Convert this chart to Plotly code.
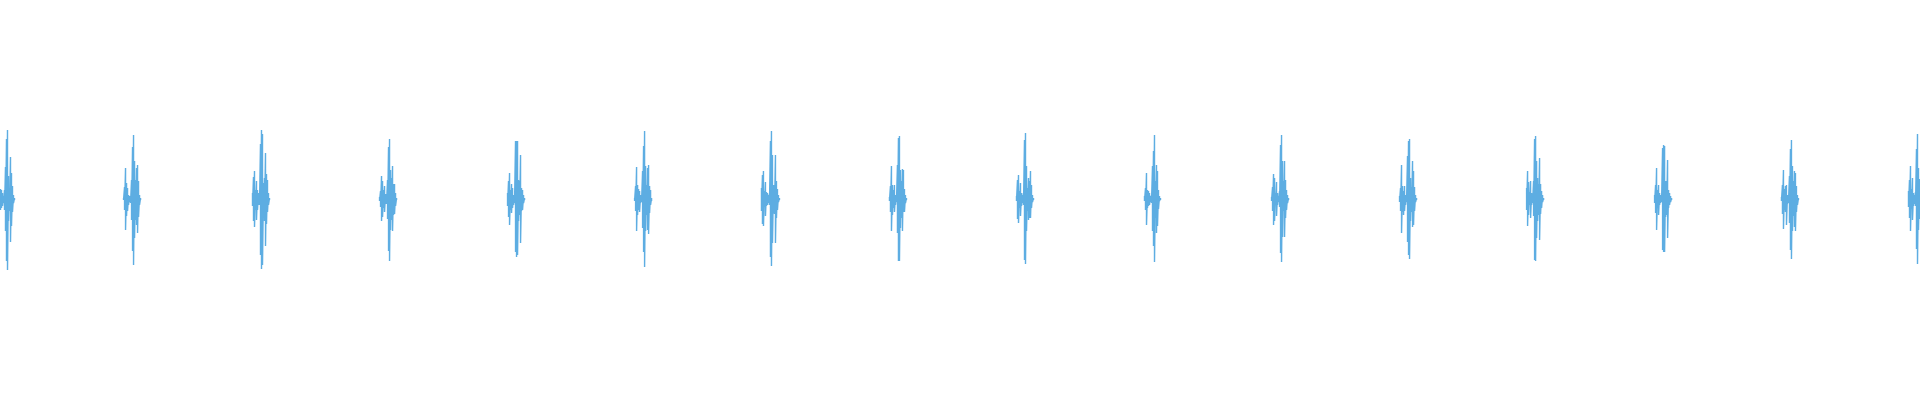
import plotly.graph_objects as go

# Heart-sound (PCG) style recording: 16 beats over 12 seconds.
# Each beat: onset time (s) and per-column positive / negative peak amplitudes
# (envelope sampled at 160 columns per second, read from the reference).
onsets_s = [0.000, 0.769, 1.575, 2.369, 3.169, 3.963, 4.756, 5.556,
            6.350, 7.150, 7.944, 8.744, 9.538, 10.338, 11.131, 11.925]

b01_up = [10, 9, 6, 3, 9, 32, 60, 69, 23, 11, 42, 26, 13, 4, 1]
b01_dn = [11, 9, 7, 4, 11, 32, 62, 71, 22, 12, 43, 27, 13, 4, 1]
b02_up = [1, 12, 31, 16, 11, 4, 3, 3, 19, 52, 64, 38, 19, 31, 34, 18, 4, 1]
b02_dn = [1, 11, 31, 17, 12, 6, 3, 4, 21, 52, 66, 39, 21, 26, 34, 18, 6, 1]
b03_up = [6, 22, 28, 9, 18, 9, 6, 6, 55, 69, 65, 16, 21, 46, 25, 19, 6, 1]
b03_dn = [7, 22, 28, 11, 21, 11, 6, 6, 56, 70, 66, 16, 22, 47, 25, 13, 6, 1]
b04_up = [2, 8, 23, 18, 9, 13, 5, 4, 19, 52, 60, 29, 21, 33, 15, 15, 6, 1]
b04_dn = [2, 8, 22, 18, 9, 13, 5, 5, 20, 52, 62, 31, 21, 32, 16, 15, 7, 1]
b05_up = [6, 18, 26, 9, 15, 11, 4, 3, 58, 58, 58, 19, 18, 44, 11, 9, 4, 1]
b05_dn = [7, 18, 26, 11, 14, 9, 6, 4, 53, 58, 56, 22, 16, 44, 12, 11, 4, 1]
b06_up = [1, 13, 32, 14, 10, 8, 4, 3, 28, 53, 68, 33, 14, 31, 34, 13, 9, 1]
b06_dn = [2, 12, 32, 16, 11, 13, 4, 3, 29, 53, 68, 32, 16, 31, 35, 14, 6, 2]
b07_up = [11, 24, 28, 8, 17, 7, 6, 4, 5, 58, 68, 44, 14, 14, 44, 18, 10, 4, 1]
b07_dn = [12, 25, 27, 8, 17, 7, 6, 4, 6, 58, 67, 44, 14, 15, 44, 19, 11, 3, 1]
b08_up = [2, 13, 33, 14, 9, 14, 4, 3, 34, 61, 63, 29, 18, 30, 29, 10, 4, 1]
b08_dn = [2, 13, 32, 16, 9, 13, 6, 3, 34, 62, 62, 29, 19, 32, 13, 13, 4, 1]
b09_up = [3, 19, 24, 8, 16, 6, 4, 6, 59, 66, 33, 11, 21, 18, 28, 14, 4, 1]
b09_dn = [2, 20, 24, 9, 17, 7, 4, 6, 61, 65, 32, 12, 21, 19, 19, 9, 3, 1]
b10_up = [3, 11, 26, 9, 8, 6, 3, 4, 33, 48, 64, 18, 34, 28, 9, 3, 1]
b10_dn = [2, 11, 26, 9, 7, 6, 3, 4, 32, 47, 63, 19, 34, 27, 10, 2, 1]
b11_up = [2, 12, 25, 21, 6, 17, 6, 3, 8, 54, 64, 38, 18, 38, 19, 9, 4, 1]
b11_dn = [2, 12, 26, 22, 6, 17, 6, 3, 8, 54, 63, 38, 12, 38, 19, 11, 4, 1]
b12_up = [3, 11, 34, 13, 8, 13, 4, 3, 43, 58, 60, 21, 12, 38, 28, 12, 4, 1]
b12_dn = [3, 12, 34, 13, 16, 12, 6, 3, 43, 56, 60, 22, 13, 28, 26, 12, 3, 1]
b13_up = [11, 28, 17, 7, 18, 6, 4, 18, 60, 63, 38, 21, 15, 41, 15, 8, 4, 1]
b13_dn = [11, 27, 16, 6, 19, 6, 4, 17, 61, 62, 39, 22, 16, 41, 15, 9, 3, 1]
b14_up = [4, 14, 31, 9, 14, 6, 4, 4, 51, 54, 53, 18, 18, 39, 9, 6, 3, 1]
b14_dn = [4, 14, 31, 9, 16, 6, 4, 3, 51, 53, 53, 18, 16, 39, 9, 6, 3, 1]
b15_up = [2, 14, 29, 10, 13, 14, 4, 4, 23, 50, 59, 33, 18, 28, 26, 13, 4, 1]
b15_dn = [2, 15, 30, 11, 13, 26, 5, 4, 24, 51, 60, 32, 17, 28, 32, 13, 6, 1]
b16_up = [8, 19, 33, 10, 21, 6, 4, 7, 50, 65, 31, 20]
b16_dn = [8, 19, 32, 10, 21, 7, 5, 7, 50, 65, 31, 20]

beats_up = [b01_up, b02_up, b03_up, b04_up, b05_up, b06_up, b07_up, b08_up,
            b09_up, b10_up, b11_up, b12_up, b13_up, b14_up, b15_up, b16_up]
beats_dn = [b01_dn, b02_dn, b03_dn, b04_dn, b05_dn, b06_dn, b07_dn, b08_dn,
            b09_dn, b10_dn, b11_dn, b12_dn, b13_dn, b14_dn, b15_dn, b16_dn]

col_rate = 160.0  # envelope columns per second
duration_s = 12.0

xs, ys = [], []
for t0, ups, dns in zip(onsets_s, beats_up, beats_dn):
    for i, (u, d) in enumerate(zip(ups, dns)):
        t = t0 + (i + 0.5) / col_rate
        xs += [t, t]
        ys += [u, -d]
    xs.append(None)
    ys.append(None)

fig = go.Figure(
    go.Scatter(
        x=xs, y=ys, mode="lines",
        line=dict(color="#5DADE2", width=1.4),
        connectgaps=False, hoverinfo="skip",
    )
)
fig.update_layout(
    width=1920, height=400,
    margin=dict(l=0, r=0, t=0, b=0),
    paper_bgcolor="white", plot_bgcolor="white",
    showlegend=False,
    xaxis=dict(range=[0, duration_s], visible=False, fixedrange=True),
    yaxis=dict(range=[-201, 199], visible=False, fixedrange=True),
)
fig.write_html("out.html", config={"displayModeBar": False},
               post_script="document.body.style.margin='0';")
